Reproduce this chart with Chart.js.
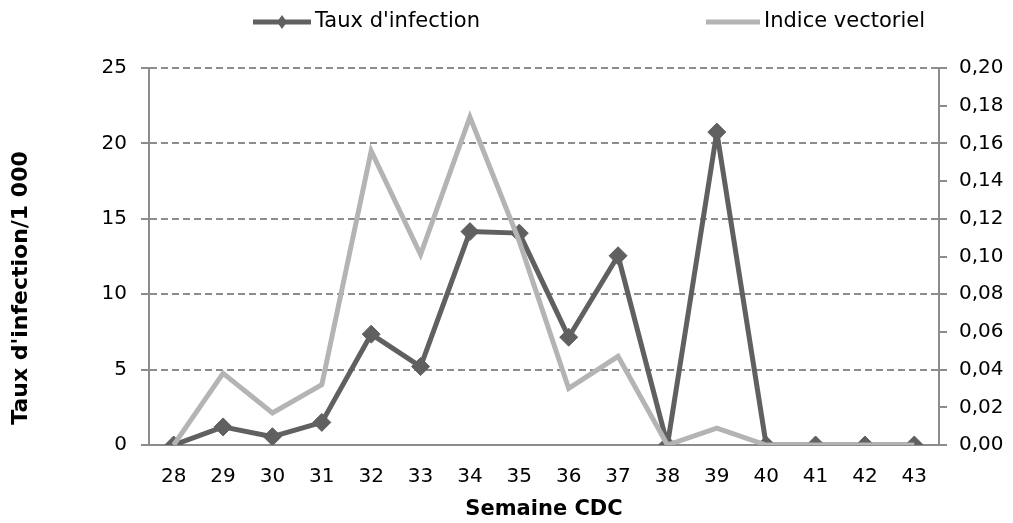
<!DOCTYPE html>
<html>
<head>
<meta charset="utf-8">
<script src="https://cdn.jsdelivr.net/npm/chart.js@4.4.1/dist/chart.umd.min.js"></script>
<style>
  html, body { margin: 0; padding: 0; background: #fff; }
  #wrap { width: 1013px; height: 523px; }
</style>
</head>
<body>
<div id="wrap"><canvas id="graphique" width="1013" height="523"></canvas></div>
<script>
// semaines CDC
const semaines = ['28', '29', '30', '31', '32', '33', '34', '35', '36', '37', '38', '39', '40', '41', '42', '43'];
// taux d'infection /1 000 (axe gauche)
const tauxInfection = [0, 1.2, 0.55, 1.5, 7.35, 5.2, 14.15, 14.05, 7.15, 12.55, 0, 20.75, 0, 0, 0, 0];
// indice vectoriel (axe droit)
const indiceVectoriel = [0, 0.038, 0.017, 0.032, 0.156, 0.101, 0.174, 0.108, 0.030, 0.047, 0, 0.009, 0, 0, 0, 0];

const gauche = { min: 0, max: 25, pas: 5 };
const droite = { min: 0, max: 0.2, pas: 0.02 };

const police = 'DejaVu Sans';
const gris = '#8c8c8c';
const foncé = '#606060';
const clair = '#b4b4b4';

// légende et titre vertical dessinés à la main
const decor = {
    id: 'decor',
    afterDraw(chart) {
        const ctx = chart.ctx;
        ctx.save();
        ctx.lineCap = 'butt';
        // légende 1
        ctx.strokeStyle = foncé;
        ctx.lineWidth = 5;
        ctx.beginPath(); ctx.moveTo(253, 22); ctx.lineTo(311, 22); ctx.stroke();
        ctx.fillStyle = foncé;
        ctx.beginPath();
        ctx.moveTo(282, 15); ctx.lineTo(287, 22); ctx.lineTo(282, 29); ctx.lineTo(277, 22);
        ctx.closePath(); ctx.fill();
        // légende 2
        ctx.strokeStyle = clair;
        ctx.beginPath(); ctx.moveTo(706, 22); ctx.lineTo(760, 22); ctx.stroke();

        ctx.fillStyle = '#000';
        ctx.font = '21px "' + police + '"';
        ctx.textBaseline = 'middle';
        ctx.textAlign = 'left';
        ctx.fillText("Taux d'infection", 315, 22);
        ctx.fillText('Indice vectoriel', 764, 22);

        // titre axe gauche
        ctx.translate(21, 288);
        ctx.rotate(-Math.PI / 2);
        ctx.textAlign = 'center';
        ctx.font = 'bold 22px "' + police + '"';
        ctx.fillText("Taux d'infection/1 000", 0, 0);
        ctx.restore();
    }
};

const config = {
    type: 'line',
    data: {
        labels: semaines,
        datasets: [{
            label: "Taux d'infection",
            data: tauxInfection,
            yAxisID: 'y',
            borderColor: foncé,
            backgroundColor: foncé,
            borderWidth: 5,
            borderJoinStyle: 'round',
            pointStyle: 'rectRot',
            pointRadius: 9,
            pointBorderWidth: 1,
            pointBackgroundColor: foncé,
            pointBorderColor: foncé,
            tension: 0,
            order: 1
        }, {
            label: 'Indice vectoriel',
            data: indiceVectoriel,
            yAxisID: 'y1',
            borderColor: clair,
            backgroundColor: clair,
            borderWidth: 5,
            pointRadius: 0,
            tension: 0,
            order: 0
        }]
    },
    options: {
        responsive: false,
        animation: false,
        events: [],
        layout: { padding: { top: 68, left: 0, right: 0, bottom: 0 } },
        scales: {
            x: {
                offset: true,
                grid: { display: false },
                border: { display: true, color: gris, width: 2 },
                ticks: { color: '#000', font: { family: police, size: 20 }, padding: 12, maxRotation: 0 },
                title: {
                    display: true,
                    text: 'Semaine CDC',
                    color: '#000',
                    font: { family: police, size: 21, weight: 'bold' },
                    padding: { top: 0, bottom: 1 }
                },
                afterFit(scale) { scale.height = 78; }
            },
            y: {
                position: 'left',
                min: gauche.min,
                max: gauche.max,
                ticks: { stepSize: gauche.pas, color: '#000', font: { family: police, size: 20 }, padding: 14 },
                grid: {
                    color: gris,
                    lineWidth: 2,
                    tickLength: 8,
                    tickColor: gris,
                    tickBorderDash: []
                },
                border: { display: true, color: gris, width: 2, dash: [7, 4] },
                afterFit(scale) { scale.width = 149; }
            },
            y1: {
                position: 'right',
                min: droite.min,
                max: droite.max,
                ticks: {
                    stepSize: droite.pas,
                    color: '#000',
                    font: { family: police, size: 20 },
                    padding: 12,
                    callback: v => v.toFixed(2).replace('.', ',')
                },
                grid: { drawOnChartArea: false, tickLength: 8, color: gris, lineWidth: 2 },
                border: { display: true, color: gris, width: 2 },
                afterFit(scale) { scale.width = 74; }
            }
        },
        plugins: {
            legend: { display: false },
            tooltip: { enabled: false }
        }
    },
    plugins: [decor]
};

new Chart(document.getElementById('graphique').getContext('2d'), config);
</script>
</body>
</html>
